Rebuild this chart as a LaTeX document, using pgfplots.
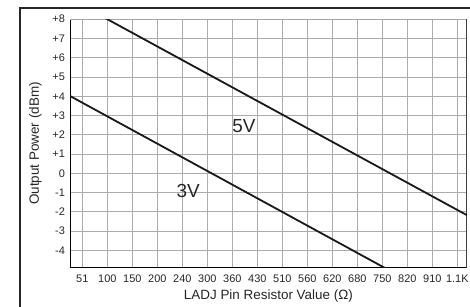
\documentclass[border=0pt]{standalone}
\usepackage{pgfplots}
\pgfplotsset{compat=1.18}
\usepackage{fontspec}
\setmainfont{Liberation Sans}
\begin{document}
\begin{tikzpicture}
\useasboundingbox (0bp,0bp) rectangle (470bp,307bp);
\clip (0bp,0bp) rectangle (470bp,307bp);
\draw[line width=2.2bp, black!85] (20bp,-10bp) -- (20bp,299bp) -- (480bp,299bp);
\begin{axis}[
  at={(70bp,39.3bp)}, anchor=south west,
  scale only axis, width=396.8bp, height=248.5bp,
  xmin=-0.492, xmax=15.38, ymin=-4.9, ymax=8,
  axis line style={draw=none},
  xtick={0,...,15},
  xticklabels={51,100,150,200,240,300,360,430,510,560,620,680,750,820,910,1.1K},
  ytick={-4,...,8},
  yticklabels={-4,-3,-2,-1,0,+1,+2,+3,+4,+5,+6,+7,+8},
  major tick length=0pt,
  grid=major,
  major grid style={gray!65, line width=0.8bp},
  tick label style={font=\fontsize{11}{13}\selectfont, text=black!85},
  /pgf/number format/assume math mode=true,
  xticklabel style={yshift=-4bp},
  yticklabel style={xshift=-1.5bp},
  xlabel={LADJ Pin Resistor Value (\symbol{"03A9})},
  xlabel style={font=\fontsize{13.5}{15}\selectfont, text=black!85, yshift=0bp},
  ylabel={Output Power (dBm)},
  ylabel style={font=\fontsize{13.5}{15}\selectfont, text=black!85, yshift=4bp},
  clip=true,
]
\draw[black, line width=1.2bp] (rel axis cs:0,1) -- (rel axis cs:0,0) -- (rel axis cs:1,0);
\draw[gray!70, line width=0.8bp] (rel axis cs:0,1) -- (rel axis cs:1,1);
\draw[black!75, line width=1bp] (rel axis cs:1,0) -- (rel axis cs:1,1);
\addplot[black!90, line width=1.8bp] coordinates {(-0.5,4.02) (12.07,-4.89) (12.2,-4.98)};
\addplot[black!90, line width=1.8bp] coordinates {(0.9,8.07) (1.0,8.0) (15.38,-2.17) (15.5,-2.25)};
\node[font=\fontsize{19}{22}\selectfont, text=black!85] at (axis cs:6.47,2.45) {5V};
\node[font=\fontsize{19}{22}\selectfont, text=black!85] at (axis cs:4.24,-0.92) {3V};
\end{axis}
\end{tikzpicture}
\end{document}
